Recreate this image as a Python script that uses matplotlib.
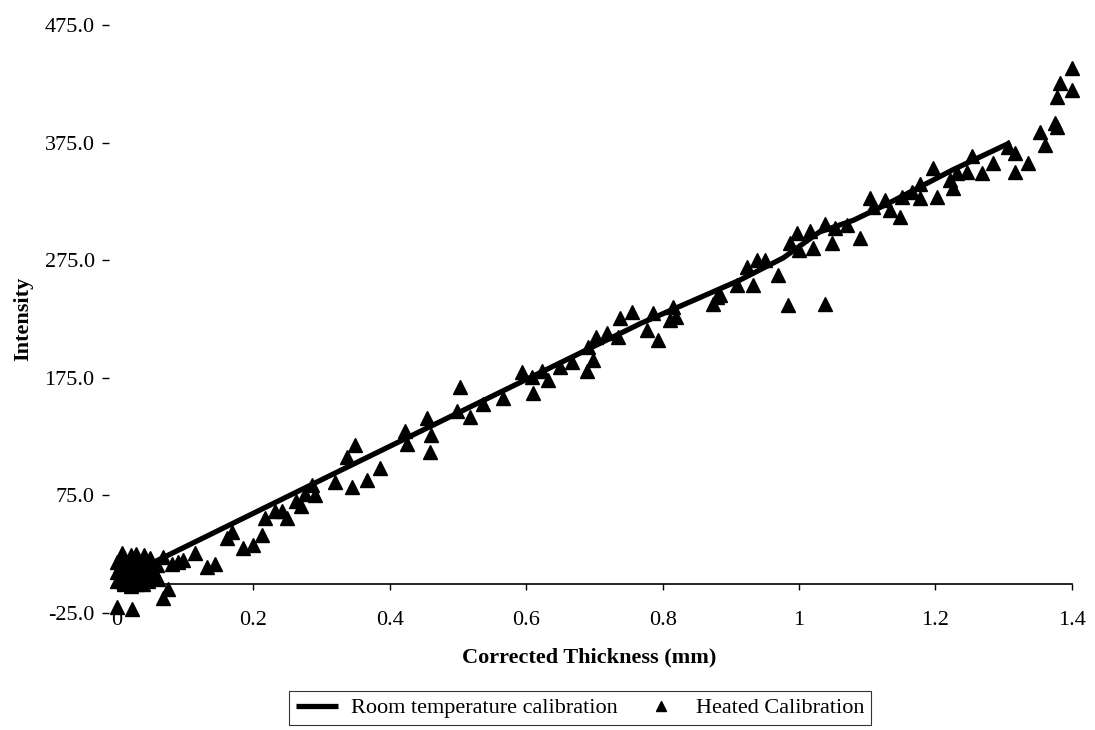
import matplotlib
matplotlib.use("Agg")
import matplotlib.pyplot as plt

plt.rcParams['font.family'] = ['Liberation Serif', 'DejaVu Serif']

# Room temperature calibration line
room_x = [0.05, 0.32, 0.767, 0.913, 0.977, 1.03, 1.08, 1.13, 1.226, 1.31]
room_y = [17, 94, 221, 258, 277, 299, 309, 323, 352, 375]

# Heated calibration points
heated_x = [
    0.0, 0.0, 0.0, 0.005, 0.005, 0.01, 0.01, 0.01, 0.015, 0.015, 0.02, 0.02, 0.02,
    0.025, 0.025, 0.03, 0.03, 0.03, 0.035, 0.035, 0.04, 0.04, 0.045, 0.045, 0.05,
    0.05, 0.055, 0.06, 0.008, 0.018, 0.028, 0.038, 0.048, 0.058, 0.012, 0.042,
    0.0, 0.022, 0.068, 0.075,
    0.067, 0.08, 0.09, 0.097, 0.114, 0.132, 0.144, 0.161, 0.168, 0.185, 0.2, 0.212,
    0.217, 0.232, 0.242, 0.25, 0.262, 0.27, 0.275, 0.286, 0.29,
    0.32, 0.337, 0.349, 0.345, 0.366, 0.386, 0.422, 0.425, 0.454, 0.461, 0.459,
    0.498, 0.503, 0.517, 0.537, 0.566, 0.594, 0.608, 0.61, 0.623, 0.632, 0.65,
    0.667, 0.689, 0.698, 0.69, 0.703, 0.718, 0.735, 0.737, 0.755, 0.777, 0.786,
    0.793, 0.811, 0.815, 0.82, 0.874, 0.88, 0.884, 0.909, 0.924, 0.933, 0.938,
    0.95, 0.969, 0.984, 0.987, 0.997, 1.0, 1.016, 1.021, 1.038, 1.038, 1.048,
    1.053, 1.07, 1.09, 1.104, 1.109, 1.126, 1.133, 1.148, 1.151, 1.166, 1.177,
    1.177, 1.196, 1.202, 1.221, 1.226, 1.231, 1.246, 1.253, 1.268, 1.285, 1.306,
    1.317, 1.317, 1.336, 1.353, 1.361, 1.375, 1.378, 1.378, 1.383, 1.4, 1.4,
]
heated_y = [
    2, 10, 18, 5, 14, 0, 8, 22, 4, 16, -2, 10, 24,
    6, 18, 0, 12, 20, 4, 16, 8, 24, 2, 14, 6,
    18, 10, 4, 26, 2, 25, 0, 22, 16, 12, 10,
    -20, -22, -12, -5,
    23, 17, 18, 20, 26, 14, 17, 39, 44, 30, 33, 41,
    56, 62, 62, 56, 70, 66, 76, 84, 75,
    86, 108, 118, 82, 88, 98, 130, 119, 141, 126, 112,
    147, 167, 142, 153, 158, 180, 176, 162, 181, 173, 184,
    188, 181, 190, 201, 210, 213, 210, 226, 231, 216, 230,
    207, 224, 235, 227, 238, 244, 245, 254, 269, 254, 275,
    275, 262, 237, 290, 298, 284, 300, 285, 306, 238, 290,
    302, 305, 294, 328, 320, 326, 318, 312, 329, 333, 340,
    328, 353, 329, 343, 336, 349, 350, 364, 349, 358, 371,
    350, 366, 358, 384, 373, 392, 388, 414, 426, 420, 438,
]

x_ticks = [0, 0.2, 0.4, 0.6, 0.8, 1.0, 1.2, 1.4]
x_tick_labels = ["0", "0.2", "0.4", "0.6", "0.8", "1", "1.2", "1.4"]
y_ticks = [-25, 75, 175, 275, 375, 475]
y_tick_labels = ["-25.0", "75.0", "175.0", "275.0", "375.0", "475.0"]

fig = plt.figure(figsize=(10.95, 7.3), dpi=100)
ax = fig.add_axes([0.1068, 0.1603, 0.8721, 0.8055])

ax.plot(room_x, room_y, color='black', linewidth=3.8, solid_capstyle='butt',
        label='Room temperature calibration', zorder=2)
ax.plot(heated_x, heated_y, linestyle='none', marker='^', markersize=10,
        color='black', label='Heated Calibration', clip_on=False, zorder=3)

ax.set_xlim(0, 1.4)
ax.set_ylim(-25, 475)

ax.spines['top'].set_visible(False)
ax.spines['right'].set_visible(False)
ax.spines['left'].set_visible(False)
ax.spines['left'].set_position(('outward', 6))
ax.spines['bottom'].set_position(('data', 0))
ax.spines['bottom'].set_linewidth(1.2)

ax.set_xticks(x_ticks)
ax.set_xticklabels(x_tick_labels)
ax.set_yticks(y_ticks)
ax.set_yticklabels(y_tick_labels)
ax.tick_params(axis='x', direction='out', length=4, width=1, labelsize=16, pad=16)
ax.tick_params(axis='y', direction='out', length=5, width=1, labelsize=16, pad=5)
for lbl in ax.get_xticklabels():
    lbl.set_zorder(1)

ax.set_xlabel('Corrected Thickness (mm)', fontsize=16, fontweight='bold')
ax.xaxis.set_label_coords(0.495, -0.058)
ax.set_ylabel('Intensity', fontsize=16, fontweight='bold')
ax.yaxis.set_label_coords(-0.088, 0.5)

leg = fig.legend(loc='center', bbox_to_anchor=(580 / 1095, 1 - 708 / 730), ncol=2,
                 fontsize=16, frameon=True, fancybox=False, edgecolor='black',
                 handlelength=1.9, columnspacing=1.0, handletextpad=0.6,
                 borderpad=0.3, markerscale=0.7)
leg.get_frame().set_linewidth(0.8)

fig.savefig('out.png', dpi=100)
